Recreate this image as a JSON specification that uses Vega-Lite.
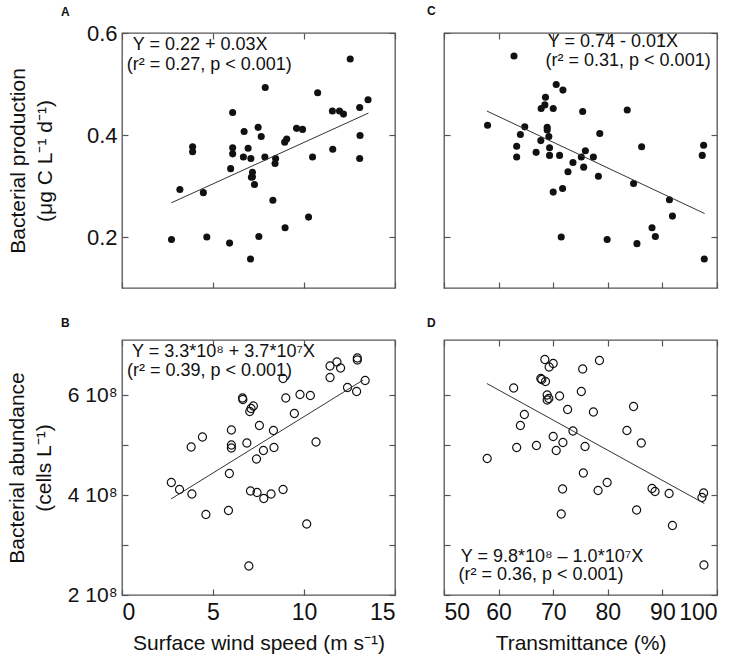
{
  "$schema": "https://vega.github.io/schema/vega-lite/v6.json",
  "background": "white",
  "padding": {"left": 5, "top": 4, "right": 4, "bottom": 2},
  "columns": 2,
  "spacing": {"row": 26, "column": 29},
  "datasets": {
    "ptsA": [
      {"x": 2.72, "y": 0.195}, {"x": 3.18, "y": 0.293}, {"x": 3.88, "y": 0.377}, {"x": 3.88, "y": 0.367},
      {"x": 4.47, "y": 0.287}, {"x": 4.66, "y": 0.2}, {"x": 5.91, "y": 0.188}, {"x": 5.97, "y": 0.334},
      {"x": 6.08, "y": 0.444}, {"x": 6.08, "y": 0.375}, {"x": 6.08, "y": 0.363}, {"x": 6.71, "y": 0.407},
      {"x": 6.67, "y": 0.357}, {"x": 6.93, "y": 0.374}, {"x": 7.08, "y": 0.354}, {"x": 7.06, "y": 0.157},
      {"x": 7.17, "y": 0.327}, {"x": 7.17, "y": 0.318}, {"x": 7.11, "y": 0.317}, {"x": 7.28, "y": 0.303},
      {"x": 7.48, "y": 0.415}, {"x": 7.65, "y": 0.397}, {"x": 7.52, "y": 0.201}, {"x": 7.87, "y": 0.493},
      {"x": 7.85, "y": 0.357}, {"x": 8.29, "y": 0.272}, {"x": 8.44, "y": 0.354}, {"x": 8.41, "y": 0.344},
      {"x": 8.94, "y": 0.386}, {"x": 9.05, "y": 0.392}, {"x": 8.96, "y": 0.218}, {"x": 9.59, "y": 0.413},
      {"x": 9.92, "y": 0.411}, {"x": 10.25, "y": 0.239}, {"x": 10.47, "y": 0.357}, {"x": 10.75, "y": 0.483},
      {"x": 11.56, "y": 0.447}, {"x": 11.58, "y": 0.372}, {"x": 11.95, "y": 0.447}, {"x": 12.17, "y": 0.441},
      {"x": 12.54, "y": 0.549}, {"x": 13.06, "y": 0.454}, {"x": 13.08, "y": 0.399}, {"x": 13.06, "y": 0.354},
      {"x": 13.52, "y": 0.469}
    ],
    "ptsC": [
      {"x": 57.98, "y": 0.419}, {"x": 62.82, "y": 0.555}, {"x": 63.31, "y": 0.378}, {"x": 63.31, "y": 0.357},
      {"x": 63.99, "y": 0.401}, {"x": 64.79, "y": 0.416}, {"x": 66.87, "y": 0.366}, {"x": 67.73, "y": 0.389},
      {"x": 67.79, "y": 0.452}, {"x": 68.47, "y": 0.459}, {"x": 68.59, "y": 0.474}, {"x": 68.9, "y": 0.415},
      {"x": 68.9, "y": 0.41}, {"x": 69.2, "y": 0.397}, {"x": 69.33, "y": 0.375}, {"x": 69.33, "y": 0.36},
      {"x": 70.0, "y": 0.452}, {"x": 70.0, "y": 0.288}, {"x": 70.55, "y": 0.499}, {"x": 71.17, "y": 0.36},
      {"x": 71.47, "y": 0.2}, {"x": 71.72, "y": 0.295}, {"x": 71.78, "y": 0.488}, {"x": 72.7, "y": 0.328},
      {"x": 73.62, "y": 0.346}, {"x": 75.15, "y": 0.357}, {"x": 75.4, "y": 0.446}, {"x": 75.58, "y": 0.337},
      {"x": 75.89, "y": 0.369}, {"x": 77.36, "y": 0.357}, {"x": 78.28, "y": 0.319}, {"x": 78.53, "y": 0.403},
      {"x": 79.88, "y": 0.195}, {"x": 83.56, "y": 0.449}, {"x": 84.72, "y": 0.305}, {"x": 85.34, "y": 0.187},
      {"x": 86.2, "y": 0.377}, {"x": 88.1, "y": 0.218}, {"x": 88.71, "y": 0.201}, {"x": 91.29, "y": 0.273},
      {"x": 91.84, "y": 0.241}, {"x": 97.3, "y": 0.36}, {"x": 97.55, "y": 0.38}, {"x": 97.67, "y": 0.157}
    ],
    "ptsB": [
      {"x": 2.71, "y": 4.25e8}, {"x": 3.16, "y": 4.11e8}, {"x": 3.84, "y": 4.02e8}, {"x": 3.8, "y": 4.96e8},
      {"x": 4.61, "y": 3.61e8}, {"x": 4.42, "y": 5.16e8}, {"x": 5.85, "y": 3.69e8}, {"x": 5.9, "y": 4.43e8},
      {"x": 6.01, "y": 5.3e8}, {"x": 6.01, "y": 5.0e8}, {"x": 6.01, "y": 4.94e8}, {"x": 6.62, "y": 5.94e8},
      {"x": 6.64, "y": 5.91e8}, {"x": 6.86, "y": 5.04e8}, {"x": 7.06, "y": 4.08e8}, {"x": 6.97, "y": 2.58e8},
      {"x": 7.02, "y": 5.67e8}, {"x": 7.09, "y": 5.73e8}, {"x": 7.22, "y": 5.78e8}, {"x": 7.39, "y": 4.72e8},
      {"x": 7.42, "y": 4.05e8}, {"x": 7.55, "y": 5.39e8}, {"x": 7.77, "y": 4.89e8}, {"x": 7.79, "y": 3.93e8},
      {"x": 8.19, "y": 4.02e8}, {"x": 8.32, "y": 5.29e8}, {"x": 8.35, "y": 4.95e8}, {"x": 8.85, "y": 4.11e8},
      {"x": 8.85, "y": 6.33e8}, {"x": 9.0, "y": 5.94e8}, {"x": 9.47, "y": 5.63e8}, {"x": 9.78, "y": 6.01e8},
      {"x": 10.15, "y": 3.42e8}, {"x": 10.35, "y": 5.99e8}, {"x": 10.66, "y": 5.06e8}, {"x": 11.43, "y": 6.58e8},
      {"x": 11.43, "y": 6.35e8}, {"x": 11.81, "y": 6.66e8}, {"x": 12.01, "y": 6.54e8}, {"x": 12.39, "y": 6.15e8},
      {"x": 12.89, "y": 6.07e8}, {"x": 12.93, "y": 6.74e8}, {"x": 12.93, "y": 6.7e8}, {"x": 13.36, "y": 6.29e8}
    ],
    "ptsD": [
      {"x": 57.91, "y": 4.73e8}, {"x": 62.76, "y": 6.14e8}, {"x": 63.31, "y": 4.95e8}, {"x": 63.99, "y": 5.39e8},
      {"x": 64.72, "y": 5.61e8}, {"x": 66.93, "y": 4.99e8}, {"x": 67.73, "y": 6.33e8}, {"x": 67.91, "y": 6.31e8},
      {"x": 68.47, "y": 6.71e8}, {"x": 68.59, "y": 6.27e8}, {"x": 68.9, "y": 6.0e8}, {"x": 68.9, "y": 5.9e8},
      {"x": 69.2, "y": 5.93e8}, {"x": 69.26, "y": 6.56e8}, {"x": 70.0, "y": 6.63e8}, {"x": 70.0, "y": 5.17e8},
      {"x": 70.55, "y": 4.89e8}, {"x": 71.17, "y": 5.98e8}, {"x": 71.47, "y": 3.62e8}, {"x": 71.72, "y": 4.12e8},
      {"x": 71.78, "y": 5.05e8}, {"x": 72.64, "y": 5.71e8}, {"x": 73.62, "y": 5.28e8}, {"x": 75.15, "y": 6.07e8},
      {"x": 75.4, "y": 6.52e8}, {"x": 75.52, "y": 4.44e8}, {"x": 75.83, "y": 4.97e8}, {"x": 77.36, "y": 5.66e8},
      {"x": 78.22, "y": 4.09e8}, {"x": 78.47, "y": 6.69e8}, {"x": 79.88, "y": 4.25e8}, {"x": 83.5, "y": 5.29e8},
      {"x": 84.72, "y": 5.77e8}, {"x": 85.28, "y": 3.7e8}, {"x": 86.13, "y": 5.04e8}, {"x": 88.1, "y": 4.13e8},
      {"x": 88.65, "y": 4.07e8}, {"x": 91.23, "y": 4.03e8}, {"x": 91.84, "y": 3.39e8}, {"x": 97.24, "y": 3.95e8},
      {"x": 97.55, "y": 4.04e8}, {"x": 97.61, "y": 2.6e8}
    ],
    "lineA": [{"x": 2.71, "y": 0.267}, {"x": 13.54, "y": 0.443}],
    "lineB": [{"x": 2.69, "y": 3.92e8}, {"x": 13.25, "y": 6.3e8}],
    "lineC": [{"x": 57.85, "y": 0.447}, {"x": 97.73, "y": 0.246}],
    "lineD": [{"x": 57.85, "y": 6.23e8}, {"x": 97.67, "y": 3.83e8}],
    "noteA": [
      {"x": 0.59, "y": 0.567, "t": "Y = 0.22 + 0.03X"},
      {"x": 0.26, "y": 0.527, "t": "(r² = 0.27, p < 0.001)"}
    ],
    "noteB": [
      {"x": 0.55, "y": 6.756e8, "t": "Y = 3.3*10⁸ + 3.7*10⁷X"},
      {"x": 0.27, "y": 6.39e8, "t": "(r² = 0.39, p < 0.001)"}
    ],
    "noteC": [
      {"x": 69.0, "y": 0.572, "t": "Y = 0.74 - 0.01X"},
      {"x": 68.6, "y": 0.535, "t": "(r² = 0.31, p < 0.001)"}
    ],
    "noteD": [
      {"x": 53.07, "y": 2.66e8, "t": "Y = 9.8*10⁸ – 1.0*10⁷X"},
      {"x": 52.64, "y": 2.3e8, "t": "(r² = 0.36, p < 0.001)"}
    ]
  },
  "concat": [
    {
      "width": 273, "height": 255,
      "title": {"text": "A", "dx": -61, "offset": 3},
      "layer": [
        {
          "data": {"name": "ptsA"},
          "mark": {"type": "circle", "size": 50, "color": "#111", "opacity": 1},
          "encoding": {
            "x": {"field": "x", "type": "quantitative", "scale": {"domain": [0, 15], "nice": false, "zero": false},
                  "axis": {"values": [0, 5, 10, 15], "labels": false, "title": null}},
            "y": {"field": "y", "type": "quantitative", "scale": {"domain": [0.1, 0.6], "nice": false, "zero": false},
                  "axis": {"values": [0.2, 0.4, 0.6], "format": ".1f", "labelFontSize": 22, "title": ["Bacterial production", "(μg C L⁻¹ d⁻¹)"], "titlePadding": 31}}
          }
        },
        {
          "data": {"name": "lineA"},
          "mark": {"type": "line", "color": "#333", "strokeWidth": 1},
          "encoding": {
            "x": {"field": "x", "type": "quantitative", "axis": {"orient": "top", "values": [0, 5, 10, 15], "labels": false, "title": null}},
            "y": {"field": "y", "type": "quantitative", "axis": {"orient": "right", "values": [0.2, 0.4, 0.6], "labels": false, "title": null}}
          }
        },
        {
          "data": {"name": "noteA"},
          "mark": {"type": "text", "align": "left", "baseline": "alphabetic", "fontSize": 18, "color": "#111"},
          "encoding": {
            "x": {"field": "x", "type": "quantitative", "axis": null},
            "y": {"field": "y", "type": "quantitative", "axis": null},
            "text": {"field": "t"}
          }
        }
      ],
      "resolve": {"axis": {"x": "independent", "y": "independent"}}
    },
    {
      "width": 273, "height": 255,
      "title": {"text": "C", "dx": -17, "offset": 14},
      "layer": [
        {
          "data": {"name": "ptsC"},
          "mark": {"type": "circle", "size": 50, "color": "#111", "opacity": 1},
          "encoding": {
            "x": {"field": "x", "type": "quantitative", "scale": {"domain": [50, 100], "nice": false, "zero": false},
                  "axis": {"values": [50, 60, 70, 80, 90, 100], "labels": false, "title": null}},
            "y": {"field": "y", "type": "quantitative", "scale": {"domain": [0.1, 0.6], "nice": false, "zero": false},
                  "axis": {"values": [0.2, 0.4, 0.6], "labels": false, "title": null}}
          }
        },
        {
          "data": {"name": "lineC"},
          "mark": {"type": "line", "color": "#333", "strokeWidth": 1},
          "encoding": {
            "x": {"field": "x", "type": "quantitative", "axis": {"orient": "top", "values": [50, 60, 70, 80, 90, 100], "labels": false, "title": null}},
            "y": {"field": "y", "type": "quantitative", "axis": {"orient": "right", "values": [0.2, 0.4, 0.6], "labels": false, "title": null}}
          }
        },
        {
          "data": {"name": "noteC"},
          "mark": {"type": "text", "align": "left", "baseline": "alphabetic", "fontSize": 18, "color": "#111"},
          "encoding": {
            "x": {"field": "x", "type": "quantitative", "axis": null},
            "y": {"field": "y", "type": "quantitative", "axis": null},
            "text": {"field": "t"}
          }
        }
      ],
      "resolve": {"axis": {"x": "independent", "y": "independent"}}
    },
    {
      "width": 273, "height": 255,
      "title": {"text": "B", "dx": -61, "offset": 9},
      "layer": [
        {
          "data": {"name": "ptsB"},
          "mark": {"type": "point", "shape": "circle", "size": 65, "color": "#111", "filled": false, "strokeWidth": 1.2, "opacity": 1},
          "encoding": {
            "x": {"field": "x", "type": "quantitative", "scale": {"domain": [0, 15], "nice": false, "zero": false},
                  "axis": {"values": [0, 5, 10, 15], "title": "Surface wind speed (m s⁻¹)", "labelFontSize": 23, "labelPadding": 12}},
            "y": {"field": "y", "type": "quantitative", "scale": {"domain": [2e8, 7.1e8], "nice": false, "zero": false},
                  "axis": {"values": [2e8, 3e8, 4e8, 5e8, 6e8], "labelExpr": "datum.value % 2e8 == 0 ? (datum.value / 1e8) + ' 10⁸' : ''",
                           "labelFontSize": 21, "title": ["Bacterial abundance", "(cells L⁻¹)"], "titlePadding": 13}}
          }
        },
        {
          "data": {"name": "lineB"},
          "mark": {"type": "line", "color": "#333", "strokeWidth": 1},
          "encoding": {
            "x": {"field": "x", "type": "quantitative", "axis": {"orient": "top", "values": [0, 5, 10, 15], "labels": false, "title": null}},
            "y": {"field": "y", "type": "quantitative", "axis": {"orient": "right", "values": [2e8, 3e8, 4e8, 5e8, 6e8], "labels": false, "title": null}}
          }
        },
        {
          "data": {"name": "noteB"},
          "mark": {"type": "text", "align": "left", "baseline": "alphabetic", "fontSize": 18, "color": "#111"},
          "encoding": {
            "x": {"field": "x", "type": "quantitative", "axis": null},
            "y": {"field": "y", "type": "quantitative", "axis": null},
            "text": {"field": "t"}
          }
        }
      ],
      "resolve": {"axis": {"x": "independent", "y": "independent"}}
    },
    {
      "width": 273, "height": 255,
      "title": {"text": "D", "dx": -17, "offset": 9},
      "layer": [
        {
          "data": {"name": "ptsD"},
          "mark": {"type": "point", "shape": "circle", "size": 65, "color": "#111", "filled": false, "strokeWidth": 1.2, "opacity": 1},
          "encoding": {
            "x": {"field": "x", "type": "quantitative", "scale": {"domain": [50, 100], "nice": false, "zero": false},
                  "axis": {"values": [50, 60, 70, 80, 90, 100], "title": "Transmittance (%)", "labelFontSize": 23, "labelPadding": 12}},
            "y": {"field": "y", "type": "quantitative", "scale": {"domain": [2e8, 7.1e8], "nice": false, "zero": false},
                  "axis": {"values": [2e8, 3e8, 4e8, 5e8, 6e8], "labels": false, "title": null}}
          }
        },
        {
          "data": {"name": "lineD"},
          "mark": {"type": "line", "color": "#333", "strokeWidth": 1},
          "encoding": {
            "x": {"field": "x", "type": "quantitative", "axis": {"orient": "top", "values": [50, 60, 70, 80, 90, 100], "labels": false, "title": null}},
            "y": {"field": "y", "type": "quantitative", "axis": {"orient": "right", "values": [2e8, 3e8, 4e8, 5e8, 6e8], "labels": false, "title": null}}
          }
        },
        {
          "data": {"name": "noteD"},
          "mark": {"type": "text", "align": "left", "baseline": "alphabetic", "fontSize": 18, "color": "#111"},
          "encoding": {
            "x": {"field": "x", "type": "quantitative", "axis": null},
            "y": {"field": "y", "type": "quantitative", "axis": null},
            "text": {"field": "t"}
          }
        }
      ],
      "resolve": {"axis": {"x": "independent", "y": "independent"}}
    }
  ],
  "config": {
    "font": "Liberation Sans",
    "view": {"stroke": "#555", "strokeWidth": 1.3},
    "axis": {
      "domain": false, "grid": false, "tickSize": -6, "tickColor": "#555", "tickWidth": 1.2,
      "labelFont": "Liberation Sans", "labelFontSize": 22, "labelColor": "#111", "labelPadding": 11,
      "titleFont": "Liberation Sans", "titleFontSize": 21, "titleFontWeight": "normal", "titleColor": "#111",
      "titleLineHeight": 27, "titlePadding": 8
    },
    "title": {"fontSize": 12, "fontWeight": "bold", "anchor": "start", "frame": "group", "baseline": "alphabetic", "color": "#111", "font": "Liberation Sans"}
  }
}
